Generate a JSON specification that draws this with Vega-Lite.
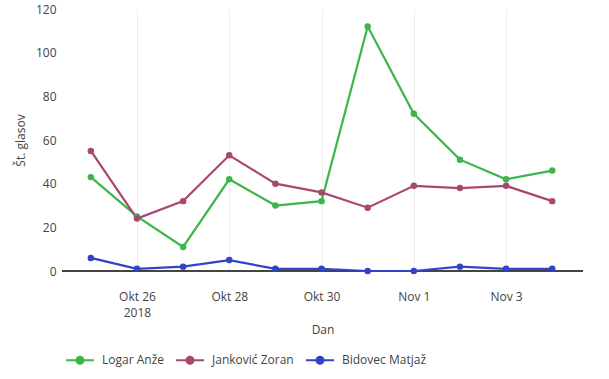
{
  "$schema": "https://vega.github.io/schema/vega-lite/v6.json",
  "width": 521,
  "height": 262,
  "autosize": {"type": "none"},
  "padding": {"left": 62, "top": 9, "right": 26, "bottom": 108},
  "background": "white",
  "config": {
    "font": "Open Sans",
    "view": {"stroke": null},
    "axis": {"labelColor": "#444", "titleColor": "#444", "labelFontSize": 12, "titleFontSize": 12, "titleFontWeight": "normal", "gridColor": "#eeeeee", "domain": false, "ticks": false}
  },
  "data": {
    "values": [
      {"dan": "2018-10-25", "kandidat": "Logar Anže", "glasov": 43},
      {"dan": "2018-10-26", "kandidat": "Logar Anže", "glasov": 25},
      {"dan": "2018-10-27", "kandidat": "Logar Anže", "glasov": 11},
      {"dan": "2018-10-28", "kandidat": "Logar Anže", "glasov": 42},
      {"dan": "2018-10-29", "kandidat": "Logar Anže", "glasov": 30},
      {"dan": "2018-10-30", "kandidat": "Logar Anže", "glasov": 32},
      {"dan": "2018-10-31", "kandidat": "Logar Anže", "glasov": 112},
      {"dan": "2018-11-01", "kandidat": "Logar Anže", "glasov": 72},
      {"dan": "2018-11-02", "kandidat": "Logar Anže", "glasov": 51},
      {"dan": "2018-11-03", "kandidat": "Logar Anže", "glasov": 42},
      {"dan": "2018-11-04", "kandidat": "Logar Anže", "glasov": 46},
      {"dan": "2018-10-25", "kandidat": "Janković Zoran", "glasov": 55},
      {"dan": "2018-10-26", "kandidat": "Janković Zoran", "glasov": 24},
      {"dan": "2018-10-27", "kandidat": "Janković Zoran", "glasov": 32},
      {"dan": "2018-10-28", "kandidat": "Janković Zoran", "glasov": 53},
      {"dan": "2018-10-29", "kandidat": "Janković Zoran", "glasov": 40},
      {"dan": "2018-10-30", "kandidat": "Janković Zoran", "glasov": 36},
      {"dan": "2018-10-31", "kandidat": "Janković Zoran", "glasov": 29},
      {"dan": "2018-11-01", "kandidat": "Janković Zoran", "glasov": 39},
      {"dan": "2018-11-02", "kandidat": "Janković Zoran", "glasov": 38},
      {"dan": "2018-11-03", "kandidat": "Janković Zoran", "glasov": 39},
      {"dan": "2018-11-04", "kandidat": "Janković Zoran", "glasov": 32},
      {"dan": "2018-10-25", "kandidat": "Bidovec Matjaž", "glasov": 6},
      {"dan": "2018-10-26", "kandidat": "Bidovec Matjaž", "glasov": 1},
      {"dan": "2018-10-27", "kandidat": "Bidovec Matjaž", "glasov": 2},
      {"dan": "2018-10-28", "kandidat": "Bidovec Matjaž", "glasov": 5},
      {"dan": "2018-10-29", "kandidat": "Bidovec Matjaž", "glasov": 1},
      {"dan": "2018-10-30", "kandidat": "Bidovec Matjaž", "glasov": 1},
      {"dan": "2018-10-31", "kandidat": "Bidovec Matjaž", "glasov": 0},
      {"dan": "2018-11-01", "kandidat": "Bidovec Matjaž", "glasov": 0},
      {"dan": "2018-11-02", "kandidat": "Bidovec Matjaž", "glasov": 2},
      {"dan": "2018-11-03", "kandidat": "Bidovec Matjaž", "glasov": 1},
      {"dan": "2018-11-04", "kandidat": "Bidovec Matjaž", "glasov": 1}
    ]
  },
  "layer": [
    {
      "mark": {"type": "rule", "color": "#444", "strokeWidth": 1},
      "encoding": {"y": {"datum": 0, "type": "quantitative"}}
    },
    {
      "mark": {"type": "line", "strokeWidth": 2.2, "point": {"filled": true, "size": 42, "opacity": 1}},
      "encoding": {
        "x": {
          "field": "dan", "type": "temporal", "title": "Dan",
          "scale": {"type": "utc", "domain": [{"year": 2018, "month": 10, "date": 24, "hours": 9, "utc": true}, {"year": 2018, "month": 11, "date": 4, "hours": 16, "utc": true}]},
          "axis": {
            "values": [
              {"year": 2018, "month": 10, "date": 26, "utc": true},
              {"year": 2018, "month": 10, "date": 28, "utc": true},
              {"year": 2018, "month": 10, "date": 30, "utc": true},
              {"year": 2018, "month": 11, "date": 1, "utc": true},
              {"year": 2018, "month": 11, "date": 3, "utc": true}
            ],
            "labelExpr": "utcdate(datum.value) == 26 ? ['Okt 26', '2018'] : (utcmonth(datum.value) == 9 ? 'Okt ' + utcdate(datum.value) : 'Nov ' + utcdate(datum.value))",
            "labelPadding": 20,
            "labelLineHeight": 16,
            "titlePadding": 6
          }
        },
        "y": {
          "field": "glasov", "type": "quantitative", "title": "Št. glasov",
          "scale": {"domain": [0, 120], "nice": false},
          "axis": {"values": [0, 20, 40, 60, 80, 100, 120], "labelPadding": 6, "titlePadding": 8}
        },
        "color": {
          "field": "kandidat", "type": "nominal", "title": null,
          "scale": {"domain": ["Logar Anže", "Janković Zoran", "Bidovec Matjaž"], "range": ["#3cb64a", "#a8486f", "#3343c9"]},
          "legend": {
            "orient": "none", "legendX": 3, "legendY": 336, "direction": "horizontal",
            "symbolType": "M-1,0L1,0M-0.25,0A0.25,0.25 0 1,1 0.25,0A0.25,0.25 0 1,1 -0.25,0",
            "symbolSize": 784, "symbolStrokeWidth": 2, "labelFontSize": 12, "labelColor": "#444",
            "columnPadding": 8, "labelOffset": 7
          }
        }
      }
    }
  ]
}
